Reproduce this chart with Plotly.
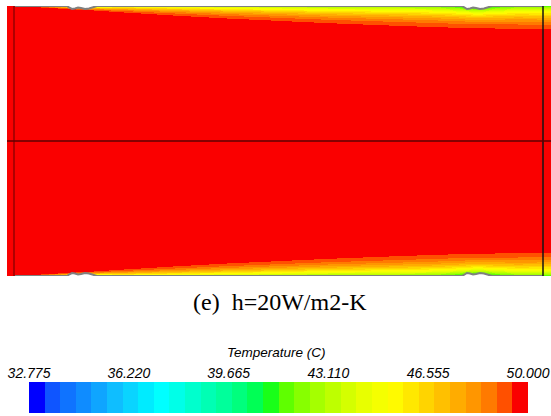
import numpy as np
import plotly.graph_objects as go

# ---------------- data ----------------
T_MIN, T_MAX = 32.775, 50.0
N_BANDS = 32
tick_values = [32.775, 36.220, 39.665, 43.110, 46.555, 50.000]
tick_labels = ["32.775", "36.220", "39.665", "43.110", "46.555", "50.000"]
band_colors = [
    "rgb(0,0,255)", "rgb(15,85,255)", "rgb(15,115,255)", "rgb(15,140,255)",
    "rgb(15,165,255)", "rgb(15,190,255)", "rgb(10,212,255)", "rgb(0,235,255)",
    "rgb(0,255,255)", "rgb(0,255,232)", "rgb(0,255,205)", "rgb(0,255,180)",
    "rgb(0,255,155)", "rgb(0,255,125)", "rgb(0,255,85)", "rgb(25,255,25)",
    "rgb(95,255,0)", "rgb(135,255,0)", "rgb(165,255,0)", "rgb(190,255,0)",
    "rgb(212,255,0)", "rgb(232,255,0)", "rgb(245,255,0)", "rgb(255,250,0)",
    "rgb(255,232,0)", "rgb(255,212,0)", "rgb(255,192,0)", "rgb(255,172,0)",
    "rgb(255,150,0)", "rgb(255,122,0)", "rgb(255,80,0)", "rgb(250,0,0)",
]

# thermal layer (visible, non-red) thickness along the wall, in half-heights
x_layer = [0.00, 0.05, 0.10, 0.15, 0.20, 0.30, 0.40, 0.50, 0.60, 0.70, 0.80, 0.85, 0.90, 0.95, 1.00]
layer_vis = [0.000, 0.011, 0.022, 0.033, 0.046, 0.070, 0.092, 0.110, 0.128, 0.143, 0.157, 0.162, 0.166, 0.169, 0.172]
# wall temperature along the wall
x_wall = [0.00, 0.03, 0.08, 0.10, 0.13, 0.16, 0.20, 0.30, 0.40, 0.50, 0.60, 0.70, 0.80, 0.84, 0.875, 0.91, 0.95, 1.00]
wall_T = [49.0, 46.0, 43.0, 41.0, 39.0, 41.0, 43.5, 43.5, 43.0, 42.5, 42.0, 42.0, 41.5, 40.5, 39.0, 40.5, 41.5, 41.5]
# wavy wall segments (start positions) and their profile (dx, depth) in pixels
bump_starts = [0.1002, 0.8469]
bump_dx = [0, 2, 5, 8, 11, 14, 18, 22, 26, 30]
bump_depth = [0, 1.5, 3, 2.5, 1.5, 2, 3, 2.5, 1, 0]

caption = "(e)  h=20W/m2-K"
cbar_title = "Temperature (C)"

# ---------------- geometry of the picture ----------------
W, H = 551, 416
PX_X0, PX_X1 = 14, 543        # wall start / end
PX_TOP, PX_BOT = 6, 276       # walls
LEN_PX = PX_X1 - PX_X0
HALF_PX = (PX_BOT - PX_TOP) / 2
x_left = (7 - PX_X0) / LEN_PX
x_right = (W - PX_X0) / LEN_PX

# ---------------- field ----------------
x_edges = (np.arange(7, W + 1) - PX_X0) / LEN_PX
x_c = 0.5 * (x_edges[:-1] + x_edges[1:])
NLAY = 60
d_edges_px = np.arange(0, NLAY + 1)
y_edges = np.concatenate([-1 + d_edges_px / HALF_PX, (1 - d_edges_px / HALF_PX)[::-1]])
y_c = 0.5 * (y_edges[:-1] + y_edges[1:])
dist = 1 - np.abs(y_c)  # distance from nearest wall (half-height units)

p = 4.0
dv = np.interp(np.clip(x_c, 0, 1), x_layer, layer_vis)
tw = np.interp(np.clip(x_c, 0, 1), x_wall, wall_T)
thr = 49.46
frac = 1 - ((T_MAX - thr) / np.maximum(T_MAX - tw, 0.6)) ** (1 / p)
dfull = np.maximum(dv / np.maximum(frac, 0.05), 1e-6)
D, DF = np.meshgrid(dist, dfull, indexing="ij")
_, TW = np.meshgrid(dist, tw, indexing="ij")
T = T_MAX - (T_MAX - TW) * np.clip(1 - D / DF, 0, 1) ** p
T[:, x_c < 0] = T_MAX
step = (T_MAX - T_MIN) / N_BANDS
band = np.clip(np.floor((T - T_MIN) / step), 0, N_BANDS - 1)
Zq = T_MIN + (band + 0.5) * step

colorscale = []
for k, c in enumerate(band_colors):
    colorscale.append([k / N_BANDS, c])
    colorscale.append([(k + 1) / N_BANDS, c])

fig = go.Figure()
fig.add_trace(go.Heatmap(x=x_edges, y=y_edges, z=Zq, zmin=T_MIN, zmax=T_MAX,
                         colorscale=colorscale, showscale=False, hoverinfo="skip"))

# wall outlines with wavy segments
def wall_line(sign):
    xs, ys = [0.0], [sign * 1.0]
    polys = []
    for s in bump_starts:
        bx = [s + dx / LEN_PX for dx in bump_dx]
        by = [sign * (1 - dd / HALF_PX) for dd in bump_depth]
        xs += bx
        ys += by
        polys.append((bx + bx[::-1], by + [sign * 1.0] * len(bx)))
    xs.append(1.0)
    ys.append(sign * 1.0)
    return xs, ys, polys

for sign in (1, -1):
    xs, ys, polys = wall_line(sign)
    for px_, py_ in polys:
        fig.add_trace(go.Scatter(x=px_, y=py_, mode="lines", fill="toself",
                                 fillcolor="white", line=dict(width=0),
                                 hoverinfo="skip", showlegend=False))
    fig.add_trace(go.Scatter(x=xs, y=ys, mode="lines",
                             line=dict(color="rgb(128,128,128)", width=2),
                             hoverinfo="skip", showlegend=False))

# colour bar as its own heatmap
cb_edges = np.linspace(T_MIN, T_MAX, N_BANDS + 1)
cb_mid = 0.5 * (cb_edges[:-1] + cb_edges[1:])
fig.add_trace(go.Heatmap(x=cb_edges, y=[0, 1], z=[cb_mid], zmin=T_MIN, zmax=T_MAX,
                         colorscale=colorscale, showscale=False, hoverinfo="skip",
                         xaxis="x2", yaxis="y2"))

shapes = [
    dict(type="line", xref="x", yref="y", x0=0, x1=0, y0=-1, y1=1,
         line=dict(color="rgb(175,0,0)", width=2)),
    dict(type="line", xref="x", yref="y", x0=1, x1=1, y0=-1, y1=1,
         line=dict(color="rgb(20,20,20)", width=1.5)),
    dict(type="line", xref="x", yref="y", x0=x_left, x1=x_right, y0=0, y1=0,
         line=dict(color="rgb(95,0,0)", width=1.5)),
]

tick_font = dict(family="Liberation Sans, Arial", size=14, color="black", style="italic")

fig.update_layout(
    width=W, height=H, margin=dict(l=0, r=0, t=0, b=0, autoexpand=False),
    paper_bgcolor="white", plot_bgcolor="white", showlegend=False,
    xaxis=dict(domain=[7 / W, 1], range=[x_left, x_right], visible=False,
               fixedrange=True, automargin=False),
    yaxis=dict(domain=[1 - PX_BOT / H, 1 - PX_TOP / H], range=[-1, 1], visible=False,
               fixedrange=True, automargin=False),
    xaxis2=dict(domain=[29 / W, 528 / W], range=[T_MIN, T_MAX], anchor="y2", side="top",
                tickvals=tick_values, ticktext=tick_labels, ticks="", showgrid=False,
                zeroline=False, showline=False, tickfont=tick_font, automargin=False,
                ticklabeloverflow="allow", fixedrange=True),
    yaxis2=dict(domain=[1 - 413 / H, 1 - 382 / H], range=[0, 1], visible=False,
                anchor="x2", automargin=False, fixedrange=True),
    shapes=shapes,
    annotations=[
        dict(text=caption, xref="paper", yref="paper", x=280 / W, y=1 - 302 / H,
             showarrow=False, xanchor="center", yanchor="middle",
             font=dict(family="Liberation Serif, Times New Roman", size=24, color="black")),
        dict(text=cbar_title, xref="paper", yref="paper", x=276 / W, y=1 - 352 / H,
             showarrow=False, xanchor="center", yanchor="middle",
             font=dict(family="Liberation Sans, Arial", size=13.5,
                       color="black", style="italic")),
    ],
)

fig.write_html("out.html")
